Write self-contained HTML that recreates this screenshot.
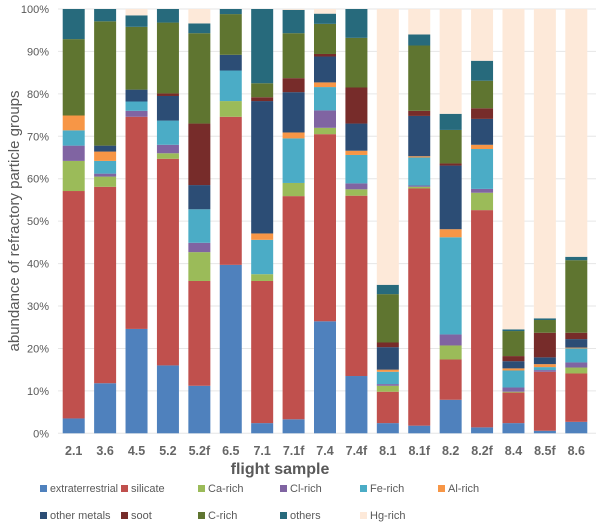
<!DOCTYPE html>
<html><head><meta charset="utf-8"><style>
body{margin:0;background:#fff;}
svg{display:block;font-family:"Liberation Sans",sans-serif;}
</style></head><body>
<svg id="chart" width="600" height="530" xmlns="http://www.w3.org/2000/svg">
<g id="grid"></g>
<g id="yticks"></g>
<g id="bars"></g>
<g id="xticks"></g>
<text transform="translate(19,221) rotate(-90)" text-anchor="middle" font-size="15" fill="#595959">abundance of refractory particle groups</text>
<text x="280" y="474" text-anchor="middle" font-size="16" font-weight="bold" fill="#595959">flight sample</text>
<g id="legend"></g>
</svg>
<script>
const categories=["2.1","3.6","4.5","5.2","5.2f","6.5","7.1","7.1f","7.4","7.4f","8.1","8.1f","8.2","8.2f","8.4","8.5f","8.6"];
const seriesNames=["extraterrestrial","silicate","Ca-rich","Cl-rich","Fe-rich","Al-rich","other metals","soot","C-rich","others","Hg-rich"];
const extraterrestrial=[3.5,11.8,24.6,16.0,11.2,39.7,2.4,3.3,26.4,13.5,2.4,1.8,7.9,1.4,2.4,0.6,2.7];
const silicate=[53.6,46.3,50.0,48.7,24.7,34.9,33.5,52.6,44.1,42.5,7.4,55.9,9.5,51.2,7.2,13.9,11.4];
const caRich=[7.1,2.4,0,1.3,6.8,3.7,1.6,3.1,1.5,1.5,1.4,0.4,3.3,4.1,0.2,0,1.4];
const clRich=[3.6,0.7,1.4,2.0,2.2,0,0,0,4.1,1.4,0.4,0.3,2.6,0.9,1.0,0.4,1.2];
const feRich=[3.6,3.0,2.2,5.7,7.9,7.2,8.1,10.5,5.5,6.7,2.9,6.6,22.9,9.4,4.0,0.7,3.3];
const alRich=[3.5,2.2,0,0,0,0,1.5,1.4,1.1,1.0,0.5,0.3,1.9,1.0,0.5,0.7,0.2];
const otherMetals=[0,1.4,2.8,5.8,5.7,3.7,31.2,9.5,6.1,6.4,5.3,9.5,15.0,6.1,1.7,1.6,2.0];
const soot=[0,0,0,0.6,14.5,0,0.9,3.3,0.6,8.5,1.1,1.2,0.5,2.5,1.2,5.8,1.5];
const cRich=[18.0,29.3,14.8,16.7,21.3,9.6,3.3,10.6,7.1,11.7,11.4,15.4,7.9,6.5,5.9,3.0,17.1];
const others=[7.1,2.9,2.7,3.2,2.3,1.2,17.5,5.5,2.4,6.8,2.2,2.6,3.8,4.7,0.4,0.4,0.8];
const hgRich=[0,0,1.5,0,3.4,0,0,0.2,1.1,0,65.0,6.0,24.7,12.2,75.5,72.9,58.4];
const yTicks=[0,10,20,30,40,50,60,70,80,90,100];
const series=[extraterrestrial,silicate,caRich,clRich,feRich,alRich,otherMetals,soot,cRich,others,hgRich];
const colors=["#4f81bd","#c0504d","#9bbb59","#8064a2","#4bacc6","#f79646","#2c4d75","#772c2a","#5f7530","#276a7c","#fde9d9"];
const NS="http://www.w3.org/2000/svg";
const x0=58,x1=592,yb=433.3,yt=9;
function yScale(v){return yb-(v/100)*(yb-yt);}
const step=(x1-x0)/categories.length;
function xCenter(i){return x0+step*(i+0.5);}
const bw=22;
function mk(tag,attrs,parent){const e=document.createElementNS(NS,tag);for(const k in attrs)e.setAttribute(k,attrs[k]);parent.appendChild(e);return e;}
const grid=document.getElementById('grid'),yt_g=document.getElementById('yticks');
yTicks.forEach(t=>{
 const l=mk('line',{x1:x0,x2:x1+4,y1:yScale(t),y2:yScale(t),stroke:"#e6e6e6","stroke-width":1},grid);
 
 
 const tx=mk('text',{x:49,y:yScale(t)+4,"text-anchor":"end","font-size":11,fill:"#595959"},yt_g);
 tx.textContent=t+"%";
 
 
});
const bars=document.getElementById('bars'),xt=document.getElementById('xticks');
categories.forEach((c,i)=>{
 let cum=0;
 series.forEach((s,j)=>{
  const v=s[i];if(!v)return;
  const r=mk('rect',{x:xCenter(i)-bw/2,y:yScale(cum+v),width:bw,height:yScale(cum)-yScale(cum+v),fill:colors[j]},bars);
  
  
  cum+=v;
 });
 const t=mk('text',{x:xCenter(i),y:455,"text-anchor":"middle","font-size":12.5,"font-weight":"bold",fill:"#666"},xt);
 t.textContent=c;
 
 
});
const lg=document.getElementById('legend');
const lx=[40,121,198,280,360,438];
seriesNames.forEach((n,j)=>{
 const row=j<6?0:1,col=j<6?j:j-6;
 const y=row?519:492;
 const g=mk('g',{},lg);
 
 
 mk('rect',{x:lx[col],y:y-7,width:7,height:7,fill:colors[j]},g);
 const t=mk('text',{x:lx[col]+10,y:y,"font-size":11,fill:"#595959"},g);
 t.textContent=n;
 if(n==="extraterrestrial"){t.setAttribute('textLength','68');t.setAttribute('lengthAdjust','spacingAndGlyphs');}
});
</script>
</body></html>
